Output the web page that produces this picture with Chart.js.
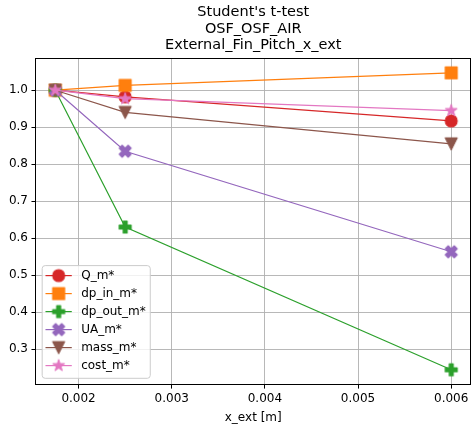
<!DOCTYPE html>
<html>
<head>
<meta charset="utf-8">
<script src="https://cdn.jsdelivr.net/npm/chart.js@4/dist/chart.umd.min.js"></script>
<style>
  html, body { margin: 0; padding: 0; background: #ffffff; overflow: hidden; }
  #c { display: block; }
</style>
</head>
<body>
<canvas id="c" width="471" height="425"></canvas>
<script>
// Fin pitch sweep: normalised responses
const xValues = [0.00175, 0.0025, 0.006];
const seriesNames = ['Q_m*', 'dp_in_m*', 'dp_out_m*', 'UA_m*', 'mass_m*', 'cost_m*'];
const qM     = [1.0, 0.982, 0.917];
const dpInM  = [1.0, 1.013, 1.047];
const dpOutM = [1.0, 0.630, 0.244];
const uaM    = [1.0, 0.835, 0.563];
const massM  = [1.0, 0.940, 0.855];
const costM  = [1.0, 0.977, 0.945];
const xTicks = [0.002, 0.003, 0.004, 0.005, 0.006];
const yTicks = [0.3, 0.4, 0.5, 0.6, 0.7, 0.8, 0.9, 1.0];
const titleLines = ["Student's t-test", 'OSF_OSF_AIR', 'External_Fin_Pitch_x_ext'];
const xLabel = 'x_ext [m]';

const seriesValues = [qM, dpInM, dpOutM, uaM, massM, costM];
const seriesColors = ['#d62728', '#ff7f0e', '#2ca02c', '#9467bd', '#8c564b', '#e377c2'];
const seriesShapes = ['circle', 'square', 'plus', 'x', 'triangleDown', 'star'];

const FONT = '"DejaVu Sans", "Liberation Sans", sans-serif';

// axis limits: data range plus a 5% margin on each side
const allY = seriesValues.flat();
const xSpan = Math.max(...xValues) - Math.min(...xValues);
const ySpan = Math.max(...allY) - Math.min(...allY);
const xMin = Math.min(...xValues) - 0.05 * xSpan;
const xMax = Math.max(...xValues) + 0.05 * xSpan;
const yMin = Math.min(...allY) - 0.05 * ySpan;
const yMax = Math.max(...allY) + 0.05 * ySpan;

// Filled marker sprites (circle, square, filled plus, filled x, down triangle, star)
function makeMarker(shape, color, m) {
  const size = Math.ceil(m + 6);
  const cv = document.createElement('canvas');
  cv.width = size; cv.height = size;
  const g = cv.getContext('2d');
  const c = size / 2;
  g.translate(c, c);
  g.beginPath();
  const poly = (pts, scale) => {
    pts.forEach((p, i) => {
      const px = p[0] * scale, py = -p[1] * scale;
      if (i === 0) g.moveTo(px, py); else g.lineTo(px, py);
    });
    g.closePath();
  };
  if (shape === 'circle') {
    g.arc(0, 0, m / 2, 0, Math.PI * 2);
  } else if (shape === 'square') {
    g.rect(-m / 2, -m / 2, m, m);
  } else if (shape === 'plus') {
    poly([[-1,-3],[-1,-1],[-3,-1],[-3,1],[-1,1],[-1,3],[1,3],[1,1],[3,1],[3,-1],[1,-1],[1,-3]], m / 6);
  } else if (shape === 'x') {
    poly([[-1,-2],[0,-1],[1,-2],[2,-1],[1,0],[2,1],[1,2],[0,1],[-1,2],[-2,1],[-1,0],[-2,-1]], m / 4);
  } else if (shape === 'triangleDown') {
    poly([[0,-1],[-1,1],[1,1]], m / 2);
  } else if (shape === 'star') {
    const pts = [];
    const inner = 0.381966;
    for (let i = 0; i < 10; i++) {
      const a = Math.PI / 2 + i * Math.PI / 5;
      const r = (i % 2 === 0) ? 1 : inner;
      pts.push([Math.cos(a) * r, Math.sin(a) * r]);
    }
    poly(pts, m / 2);
  }
  g.fillStyle = color;
  g.fill();
  g.lineWidth = 1.1;
  g.strokeStyle = color;
  g.lineJoin = 'round';
  g.stroke();
  return cv;
}

const markerSize = 12;
const markers = seriesShapes.map((s, i) => makeMarker(s, seriesColors[i], markerSize));

const datasets = seriesNames.map((name, i) => ({
  label: name,
  data: xValues.map((x, j) => ({ x: x, y: seriesValues[i][j] })),
  borderColor: seriesColors[i],
  backgroundColor: seriesColors[i],
  borderWidth: 1.2,
  pointStyle: markers[i],
  pointRadius: 7,
  pointHoverRadius: 7,
  tension: 0,
  fill: false,
  // later series sit on top
  order: seriesNames.length - i
}));

// Axes frame and boxed legend in the lower-left corner
const frameLegendPlugin = {
  id: 'frameLegend',
  afterDatasetsDraw(chart) {
    const ctx = chart.ctx;
    const a = chart.chartArea;
    ctx.save();
    // frame
    ctx.strokeStyle = '#000000';
    ctx.lineWidth = 1;
    const L = Math.round(a.left) + 0.5, T = Math.round(a.top) + 0.5;
    const R = Math.round(a.right) - 0.5, B = Math.round(a.bottom) - 0.5;
    ctx.strokeRect(L, T, R - L, B - T);

    // legend
    const fs = 12;
    ctx.font = fs + 'px ' + FONT;
    const sets = chart.data.datasets;
    const rowH = 18;
    const textW = Math.max(...sets.map(d => ctx.measureText(d.label).width));
    const boxLeft = a.left + 6.7;
    const boxH = 112.7;
    const boxBottom = a.bottom - 6.3;
    const boxTop = boxBottom - boxH;
    const textX = boxLeft + 39;
    const boxW = (textX - boxLeft) + textW + 4.5;
    const r = 3;
    ctx.beginPath();
    ctx.moveTo(boxLeft + r, boxTop);
    ctx.lineTo(boxLeft + boxW - r, boxTop);
    ctx.arcTo(boxLeft + boxW, boxTop, boxLeft + boxW, boxTop + r, r);
    ctx.lineTo(boxLeft + boxW, boxBottom - r);
    ctx.arcTo(boxLeft + boxW, boxBottom, boxLeft + boxW - r, boxBottom, r);
    ctx.lineTo(boxLeft + r, boxBottom);
    ctx.arcTo(boxLeft, boxBottom, boxLeft, boxBottom - r, r);
    ctx.lineTo(boxLeft, boxTop + r);
    ctx.arcTo(boxLeft, boxTop, boxLeft + r, boxTop, r);
    ctx.closePath();
    ctx.fillStyle = 'rgba(255,255,255,0.8)';
    ctx.fill();
    ctx.strokeStyle = '#cccccc';
    ctx.lineWidth = 1;
    ctx.stroke();

    sets.forEach((d, i) => {
      const cy = boxTop + 10 + i * rowH;
      ctx.strokeStyle = d.borderColor;
      ctx.lineWidth = d.borderWidth;
      ctx.beginPath();
      ctx.moveTo(boxLeft + 3.3, cy);
      ctx.lineTo(boxLeft + 29.6, cy);
      ctx.stroke();
      const mk = d.pointStyle;
      ctx.drawImage(mk, boxLeft + 16.5 - mk.width / 2, cy - mk.height / 2);
      ctx.fillStyle = '#000000';
      ctx.textBaseline = 'middle';
      ctx.textAlign = 'left';
      ctx.fillText(d.label, textX, cy + 0.5);
    });
    ctx.restore();
  }
};

// tick labels may overhang the plot edges freely
const noEdgePadding = (scale) => {
  scale.paddingLeft = 0; scale.paddingRight = 0;
  scale.paddingTop = 0; scale.paddingBottom = 0;
};

new Chart(document.getElementById('c'), {
  type: 'line',
  data: { datasets: datasets },
  options: {
    responsive: false,
    animation: false,
    events: [],
    layout: { autoPadding: false, padding: { left: 5.4, right: -1.5, top: 0, bottom: 0 } },
    plugins: {
      legend: { display: false },
      tooltip: { enabled: false },
      title: {
        display: true,
        text: titleLines,
        fullSize: false,
        color: '#000000',
        font: { family: FONT, size: 14.5, weight: 'normal', lineHeight: 1.14 },
        padding: { top: 4.4, bottom: 4 }
      }
    },
    scales: {
      x: {
        type: 'linear',
        min: xMin,
        max: xMax,
        afterBuildTicks: (axis) => { axis.ticks = xTicks.map(v => ({ value: v })); },
        afterFit: noEdgePadding,
        ticks: {
          color: '#000000',
          font: { family: FONT, size: 12 },
          padding: 3.5,
          maxRotation: 0,
          autoSkip: false,
          callback: (v) => Number(v).toFixed(3)
        },
        grid: {
          color: '#b0b0b0',
          lineWidth: 0.9,
          drawTicks: true,
          tickLength: 4,
          tickColor: '#000000',
          tickWidth: 1
        },
        border: { display: false },
        title: {
          display: true,
          text: xLabel,
          color: '#000000',
          font: { family: FONT, size: 12 },
          padding: { top: 0.6, bottom: 0 }
        }
      },
      y: {
        type: 'linear',
        min: yMin,
        max: yMax,
        afterBuildTicks: (axis) => { axis.ticks = yTicks.map(v => ({ value: v })); },
        afterFit: noEdgePadding,
        ticks: {
          color: '#000000',
          font: { family: FONT, size: 12 },
          padding: 3.5,
          autoSkip: false,
          callback: (v) => Number(v).toFixed(1)
        },
        grid: {
          color: '#b0b0b0',
          lineWidth: 0.9,
          drawTicks: true,
          tickLength: 4,
          tickColor: '#000000',
          tickWidth: 1
        },
        border: { display: false }
      }
    }
  },
  plugins: [frameLegendPlugin]
});
</script>
</body>
</html>
